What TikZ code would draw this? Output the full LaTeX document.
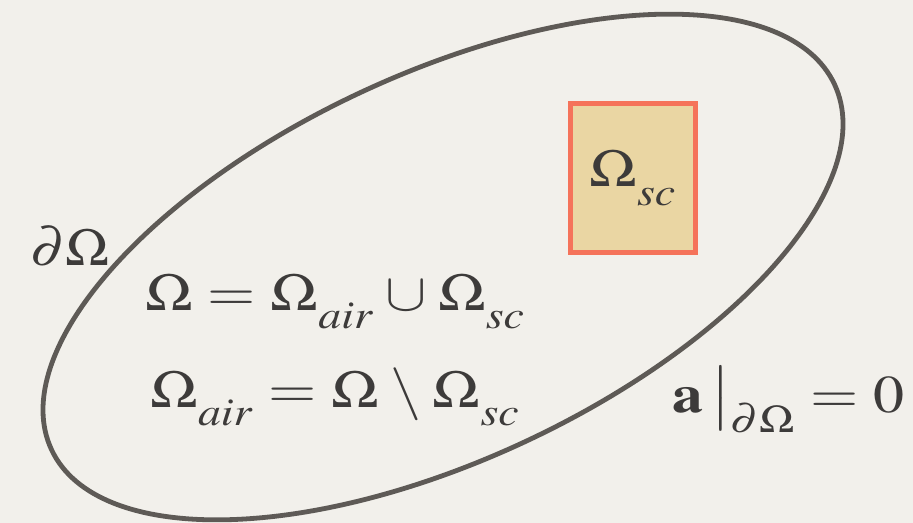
\documentclass[tikz,border=0pt]{standalone}
\usepackage{mathptmx}
\usepackage{graphicx}
\definecolor{paper}{HTML}{F2F0EB}
\definecolor{ink}{HTML}{3D3B3A}
\definecolor{rim}{HTML}{5E5A56}
\definecolor{sand}{HTML}{EAD6A3}
\definecolor{coral}{HTML}{F5735A}
\thickmuskip=4.3mu plus 5mu\relax
\medmuskip=3.3mu plus 2mu minus 3mu\relax
\newcommand{\stretchx}[1]{\scalebox{1.17}[1]{#1}}
\newcommand{\Om}{{\Omega\rule[-0.32em]{0pt}{0pt}}}
\begin{document}
\begin{tikzpicture}[x=0.5pt,y=-0.5pt,
  lbl/.style={inner sep=0pt, anchor=base west, text=ink, font=\fontsize{26.5}{32}\selectfont},
  scbox/.style={draw=coral, fill=sand, line width=2.5pt, minimum width=62.5pt, minimum height=74.5pt, inner sep=0pt, text=ink, font=\fontsize{26.5}{32}\selectfont},
  rimline/.style={draw=rim, line width=2.4pt}]
  \fill[paper] (0,0) rectangle (913,523);
  \useasboundingbox (0,0) rectangle (913,523);
  \draw[rimline, rotate around={25:(443,267)}] (443,267) ellipse [x radius=432, y radius=193];
  \node[scbox] (sc) at (633,178) {\stretchx{$\Om_{sc}$}};
  \node[lbl] (bd) at (30,265) {\scalebox{1.08}[1]{$\partial\Omega$}};
  \node[lbl] (eq1) at (145,310) {\stretchx{$\Omega = \Om_{air} \cup \Om_{sc}$}};
  \node[lbl] (eq2) at (150,407) {\stretchx{$\Om_{air} = \Omega \setminus \Om_{sc}$}};
  \node[lbl] (bc) at (672,412) {\stretchx{$\mathbf{a}\,\big|_{\partial\Omega} = 0$}};
\end{tikzpicture}
\end{document}
